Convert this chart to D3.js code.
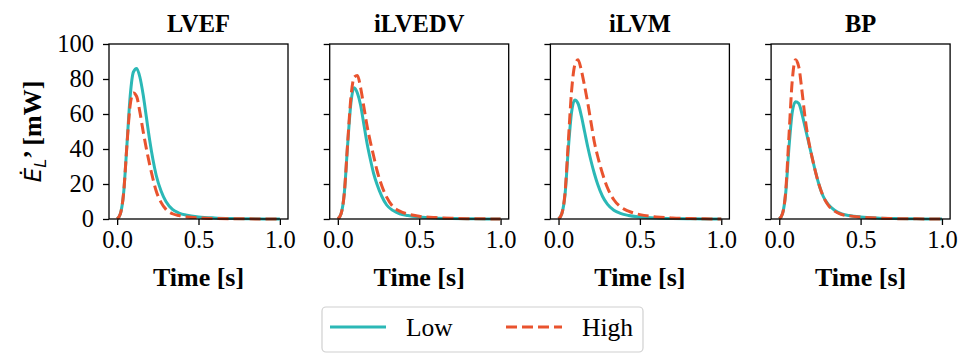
<!DOCTYPE html>
<html>
<head>
<meta charset="utf-8">
<script src="https://cdn.jsdelivr.net/npm/d3@7"></script>
<style>
  body { margin: 0; background: #fff; }
  svg { display: block; }
  .domain { display: none; }
  .tick line { stroke: #000; stroke-width: 1.3; }
</style>
</head>
<body>
<svg id="chart" width="965" height="360"></svg>
<script>
// time samples shared by every curve
const times = [0, 0.02, 0.04, 0.06, 0.08, 0.10, 0.12, 0.14, 0.16, 0.18, 0.20, 0.22, 0.24, 0.27, 0.30, 0.34, 0.38, 0.43, 0.5, 0.6, 0.7, 0.8, 0.9, 1.0];

const panels = ['LVEF', 'iLVEDV', 'iLVM', 'BP'];

const lowValues = [
  [0, 3, 15, 42, 70, 84, 86, 81, 71, 58, 45, 34, 25, 16, 10, 5.5, 3.4, 2.1, 1.2, 0.6, 0.3, 0.15, 0.05, 0],
  [0, 3, 15, 42, 66, 75, 72, 65, 54, 43, 34, 26, 20, 13, 8, 4.8, 3, 2, 1.2, 0.6, 0.3, 0.15, 0.05, 0],
  [0, 3, 14, 40, 61, 68, 66, 59, 50, 41, 33, 26, 20, 13, 8.5, 5, 3.2, 2, 1.2, 0.6, 0.3, 0.15, 0.05, 0],
  [0, 3, 15, 41, 61, 67, 66, 60, 52, 44, 36, 28, 21, 13, 8.5, 5, 3, 2, 1.2, 0.6, 0.3, 0.15, 0.05, 0]
];

const highValues = [
  [0, 3, 15, 42, 65, 72, 70, 61, 50, 40, 31, 23, 16, 9.5, 5.5, 3, 2, 1.2, 0.7, 0.3, 0.15, 0.08, 0.03, 0],
  [0, 3, 15, 43, 69, 81, 82, 75, 64, 53, 44, 36, 28, 19, 12.5, 7, 4.5, 2.8, 1.6, 0.8, 0.4, 0.2, 0.08, 0],
  [0, 3, 15, 44, 73, 88, 91, 85, 76, 66, 55, 44, 36, 26, 18, 11, 7, 4.5, 2.5, 1.2, 0.6, 0.3, 0.1, 0],
  [0, 3, 16, 48, 79, 91, 87, 73, 57, 45, 36, 28, 21, 13, 8, 4.5, 2.7, 1.8, 1.1, 0.5, 0.25, 0.12, 0.04, 0]
];

const xTicks = [0, 0.5, 1.0];
const yTicks = [0, 20, 40, 60, 80, 100];

const series = [
  { name: 'Low', values: lowValues, color: '#2BB8B6', dash: null },
  { name: 'High', values: highValues, color: '#E9532E', dash: '11,5' }
];

const svg = d3.select('#chart');
const serif = 'Liberation Serif';

const plotW = 179, plotTop = 44, plotBottom = 219;
const panelLeft = i => 109 + i * 220.7;

const x = d3.scaleLinear().domain([-0.05, 1.05]).range([0, plotW]);
const y = d3.scaleLinear().domain([0, 100]).range([plotBottom, plotTop]);

const line = d3.line()
  .x(d => x(d[0]))
  .y(d => y(d[1]))
  .curve(d3.curveMonotoneX);

function styleAxis(sel) {
  sel.attr('font-family', serif).attr('font-size', 24.5);
  sel.selectAll('.tick text').attr('fill', '#000');
}

panels.forEach((name, i) => {
  const g = svg.append('g').attr('transform', `translate(${panelLeft(i)},0)`);

  const yAxis = d3.axisLeft(y).tickValues(yTicks).tickSize(6).tickPadding(9);
  if (i > 0) yAxis.tickFormat('');
  g.append('g').call(yAxis).call(styleAxis);

  g.append('g')
    .attr('transform', `translate(0,${plotBottom})`)
    .call(d3.axisBottom(x).tickValues(xTicks).tickSize(6).tickPadding(6).tickFormat(d3.format('.1f')))
    .call(styleAxis);

  series.forEach(s => {
    const pts = times.map((t, k) => [t, s.values[i][k]]);
    g.append('path')
      .datum(pts)
      .attr('d', line)
      .attr('fill', 'none')
      .attr('stroke', s.color)
      .attr('stroke-width', 3)
      .attr('stroke-dasharray', s.dash);
  });

  // frame
  g.append('rect')
    .attr('x', 0).attr('y', plotTop)
    .attr('width', plotW).attr('height', plotBottom - plotTop)
    .attr('fill', 'none').attr('stroke', '#000').attr('stroke-width', 1.3);

  g.append('text')
    .attr('x', plotW / 2).attr('y', 32)
    .attr('text-anchor', 'middle')
    .attr('font-family', serif).attr('font-weight', 'bold').attr('font-size', 24.5)
    .text(name);

  g.append('text')
    .attr('x', plotW / 2).attr('y', 286)
    .attr('text-anchor', 'middle')
    .attr('font-family', serif).attr('font-weight', 'bold').attr('font-size', 26)
    .text('Time [s]');
});

// y label: E-dot subscript L prime [mW]
const ylab = svg.append('text')
  .attr('transform', `translate(41,${(plotTop + plotBottom) / 2}) rotate(-90)`)
  .attr('text-anchor', 'middle')
  .attr('font-size', 26);
ylab.append('tspan')
  .attr('font-family', 'DejaVu Sans').attr('font-style', 'italic')
  .attr('font-size', 23)
  .text('\u0116');
ylab.append('tspan')
  .attr('font-family', 'DejaVu Sans').attr('font-style', 'italic')
  .attr('font-size', 16).attr('dy', 5)
  .text('L');
ylab.append('tspan')
  .attr('font-family', serif).attr('font-weight', 'bold')
  .attr('dy', -5)
  .text('\u2019 [mW]');

// legend
const leg = svg.append('g');
leg.append('rect')
  .attr('x', 322).attr('y', 307).attr('width', 321).attr('height', 45)
  .attr('rx', 4).attr('fill', '#fff').attr('stroke', '#d0d0d0').attr('stroke-width', 1.2);
const legX = [330, 506];
series.forEach((s, k) => {
  leg.append('line')
    .attr('x1', legX[k]).attr('x2', legX[k] + 56)
    .attr('y1', 327).attr('y2', 327)
    .attr('stroke', s.color).attr('stroke-width', 3)
    .attr('stroke-dasharray', s.dash);
  leg.append('text')
    .attr('x', legX[k] + 76).attr('y', 336)
    .attr('font-family', serif).attr('font-size', 25.5)
    .text(s.name);
});
</script>
</body>
</html>
